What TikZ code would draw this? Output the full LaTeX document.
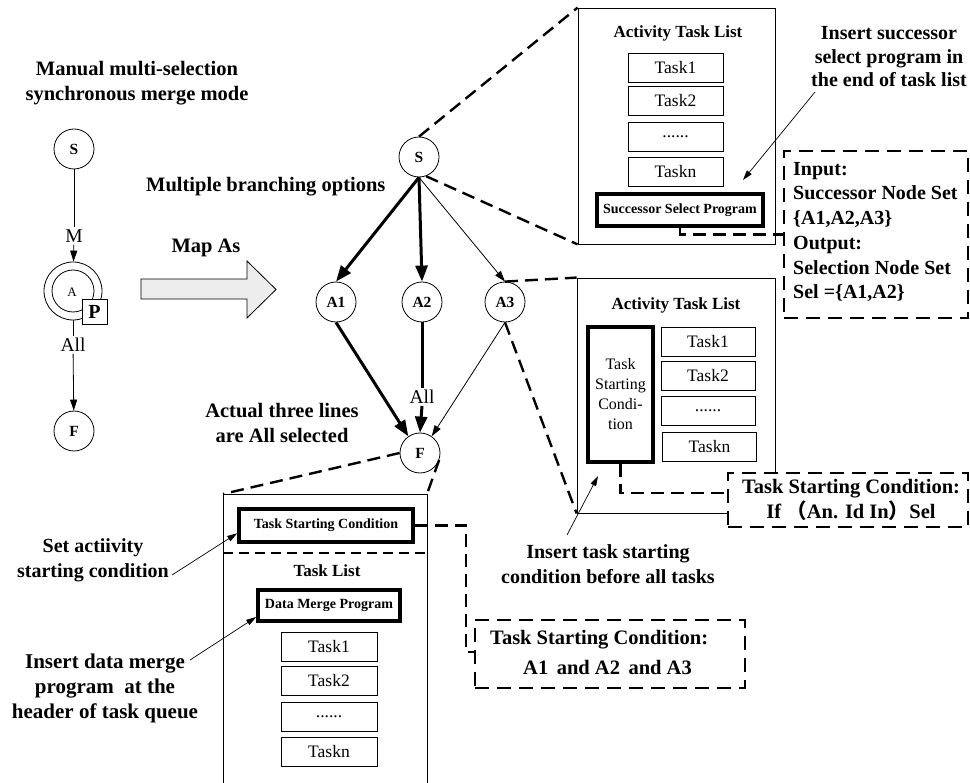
\documentclass[tikz,border=0pt]{standalone}
\usepackage{fontspec}
\setmainfont{Liberation Serif}
\newfontfamily\cjk{Noto Sans CJK SC}
\usetikzlibrary{arrows.meta}

\tikzset{
  nd/.style={circle,draw,line width=0.8pt,fill=white,minimum size=40pt,inner sep=0pt,
             font=\fontsize{15.5}{17}\selectfont\bfseries},
  bigtxt/.style={font=\fontsize{20.5}{25}\selectfont\bfseries,align=center,inner sep=1pt},
  edgetxt/.style={font=\fontsize{19.5}{22}\selectfont,inner sep=2pt},
  taskbox/.style={draw,line width=0.8pt,minimum width=95pt,minimum height=29pt,inner sep=0pt,
                  font=\fontsize{17.5}{20}\selectfont},
  progbox/.style={draw,line width=3.6pt,fill=white,inner sep=0pt,
                  font=\fontsize{14}{16}\selectfont\bfseries},
  panel/.style={draw,line width=0.8pt,inner sep=0pt},
  panelhead/.style={font=\fontsize{17}{20}\selectfont\bfseries,inner sep=0pt},
  zoomline/.style={line width=2.4pt,dash pattern=on 13pt off 7pt},
  infobox/.style={draw,line width=2.6pt,dash pattern=on 14pt off 8pt,fill=white,inner sep=0pt},
  heavy/.style={line width=3pt,-{Triangle[length=16pt,width=12pt]}},
  lightarrow/.style={line width=0.8pt,-{Triangle[length=11pt,width=7pt]}},
  plainline/.style={line width=0.8pt},
  note/.style={line width=0.7pt,-{Triangle[length=10pt,width=6pt]}}
}

\begin{document}
\begin{tikzpicture}[x=1pt,y=-1pt]
\useasboundingbox (0,0) rectangle (970,783);

% ---------------- left: the pattern ----------------
\node[bigtxt] (title) at (137,83) {Manual multi-selection\\synchronous merge mode};
\node[nd] (lS) at (74,149) {S};
\node[edgetxt] (lM) at (74,236) {M};
\node[circle,draw,line width=0.8pt,minimum size=58pt,inner sep=0pt] (lAo) at (73,291) {};
\node[circle,draw,line width=0.8pt,minimum size=42pt,inner sep=0pt] (lAi) at (73,291) {};
\node[font=\fontsize{13}{15}\selectfont,inner sep=0pt] (lA) at (72,292) {A};
\node[draw,line width=0.8pt,fill=white,minimum size=25pt,inner sep=0pt,
      font=\fontsize{20}{22}\selectfont\bfseries] (lP) at (94.5,312) {P};
\node[edgetxt] (lAll) at (73,345) {All};
\node[nd] (lF) at (74,431) {F};
\draw[plainline] (lS) -- (lM);
\draw[lightarrow] (lM) -- (lAo);
\draw[plainline] (lAo) -- (lAll);
\draw[lightarrow] (lAll) -- (lF);

% ---------------- mapping arrow ----------------
\draw[line width=0.8pt,fill=gray!14] (141,279) -- (247,279) -- (247,261) -- (276,289.5)
     -- (247,318) -- (247,299) -- (141,299) -- cycle;
\node[bigtxt] (mapas) at (206,248) {Map As};
\node[bigtxt,anchor=west] (branch) at (145,187) {Multiple branching options};

% ---------------- middle: the mapped process ----------------
\node[nd] (mS)  at (419,157) {S};
\node[nd] (mA1) at (336,302) {A1};
\node[nd] (mA2) at (422,302) {A2};
\node[nd] (mA3) at (505,302) {A3};
\node[nd] (mF)  at (420,453) {F};
\node[edgetxt] (mAll) at (422,397) {All};
\draw[heavy] (mS.south) -- (mA1.north);
\draw[heavy] (mS.south) -- (mA2.north);
\draw[lightarrow] (mS.south) -- (mA3.north);
\draw[heavy] (mA1.south) -- (mF.125);
\draw[line width=3pt] (mA2.south) -- (mAll.north);
\draw[heavy] (mAll.south) -- (mF.north);
\draw[lightarrow] (mA3.south) -- (mF.55);
\node[bigtxt] (actual) at (282,423) {Actual three lines\\are All selected};

% ---------------- panel of S ----------------
\node[panel,minimum width=197pt,minimum height=236pt] (p1) at (676.5,126) {};
\node[panelhead] (p1h) at (678,33) {Activity Task List};
\node[taskbox] (s1) at (675.5,67.5)  {Task1};
\node[taskbox] (s2) at (675.5,101)   {Task2};
\node[taskbox] (s3) at (675.5,136.5) {......};
\node[taskbox] (s4) at (675.5,171.5) {Taskn};
\node[progbox,minimum width=166pt,minimum height=32pt] (ssp) at (680,210) {Successor Select Program};
\draw[zoomline] (mS.north) -- (p1.north west);
\draw[zoomline] (mS.-70) -- (p1.south west);

\node[infobox,minimum width=184pt,minimum height=167pt] (inbox) at (876,234.5) {};
\node[font=\fontsize{20}{24.7}\selectfont\bfseries,align=left,anchor=west,inner sep=0pt] (intext)
     at (793,232) {Input:\\Successor Node Set\\\{A1,A2,A3\}\\Output:\\Selection Node Set\\Sel =\{A1,A2\}};
\draw[zoomline] (ssp.south) |- (inbox.west);

\node[bigtxt,font=\fontsize{20}{23.5}\selectfont\bfseries] (ins1) at (889,57)
     {Insert successor\\select program in\\the end of task list};
\coordinate (ins1from) at (815,92);
\coordinate (ins1to) at (743,180);
\draw[note] (ins1from) -- (ins1to);

% ---------------- panel of A3 ----------------
\node[panel,minimum width=198pt,minimum height=235pt] (p2) at (676,395.5) {};
\node[panelhead] (p2h) at (676,305) {Activity Task List};
\node[progbox,minimum width=65pt,minimum height=135pt,align=center,
      font=\fontsize{16}{20}\selectfont] (tscv) at (620.5,394.5) {Task\\Starting\\Condi-\\tion};
\node[taskbox,minimum width=94pt] (t1) at (708,342)   {Task1};
\node[taskbox,minimum width=94pt] (t2) at (708,375.5) {Task2};
\node[taskbox,minimum width=94pt] (t3) at (708,410.5) {......};
\node[taskbox,minimum width=94pt] (t4) at (709.5,446.5) {Taskn};
\draw[zoomline] (mA3.north) -- (p2.north west);
\draw[zoomline] (mA3.south) -- (p2.south west);

\node[infobox,minimum width=240pt,minimum height=54pt] (ifbox) at (848,500) {};
\node[font=\fontsize{20.5}{24.5}\selectfont\bfseries,align=center,inner sep=0pt] (iftext) at (851,500)
     {Task Starting Condition:\\If {\cjk （}An. Id In{\cjk ）}Sel};
\coordinate (ifin) at (728,493);
\draw[zoomline] (tscv.south) |- (ifin);

\node[bigtxt,font=\fontsize{20}{25}\selectfont\bfseries] (ins2) at (608,564)
     {Insert task starting\\condition before all tasks};
\coordinate (ins2from) at (567,535);
\coordinate (ins2to) at (598,476);
\draw[note] (ins2from) -- (ins2to);

% ---------------- panel of F ----------------
\coordinate (p3nw) at (223,494);
\coordinate (p3ne) at (427,494);
\draw[plainline] (223,783) -- (p3nw) -- (p3ne) -- (427,783);
\draw[zoomline] (mF.west) -- (p3nw);
\draw[zoomline] (mF.-20) -- (p3ne);
\node[progbox,minimum width=174pt,minimum height=33pt] (tscl) at (326,525.5) {Task Starting Condition};
\draw[line width=1.6pt,dash pattern=on 10pt off 6pt] (223,553) -- (427,553);
\node[panelhead] (p3h) at (327,571) {Task List};
\node[progbox,minimum width=142pt,minimum height=31pt] (dmp) at (329,605.5) {Data Merge Program};
\node[taskbox,minimum width=96pt] (f1) at (329,646.5) {Task1};
\node[taskbox,minimum width=96pt] (f2) at (329,681)   {Task2};
\node[taskbox,minimum width=96pt] (f3) at (329,717)   {......};
\node[taskbox,minimum width=96pt] (f4) at (329,751.5) {Taskn};

\node[infobox,minimum width=270pt,minimum height=68pt] (andbox) at (610,654) {};
\node[font=\fontsize{20.5}{24.5}\selectfont\bfseries,anchor=west,inner sep=0pt] (andl1) at (490,640) {Task Starting Condition:};
\node[font=\fontsize{20.5}{24.5}\selectfont\bfseries,anchor=west,inner sep=0pt] (andl2) at (523,667) {A1\, and A2\, and A3};
\coordinate (andin) at (475,652);
\draw[zoomline] (tscl.east) -| ([xshift=-9pt]andin) -- (andin);

\node[bigtxt,font=\fontsize{20}{25}\selectfont\bfseries] (setlbl) at (93,560) {Set actiivity\\starting condition};
\coordinate (setfrom) at (172,575);
\draw[note] (setfrom) -- (tscl.185);

\node[bigtxt,font=\fontsize{21}{25}\selectfont\bfseries] (dmlbl) at (105,688) {Insert data merge\\program\ \ at the\\header of task queue};
\coordinate (dmfrom) at (190,660);
\draw[note] (dmfrom) -- (dmp.189);
\end{tikzpicture}
\end{document}
